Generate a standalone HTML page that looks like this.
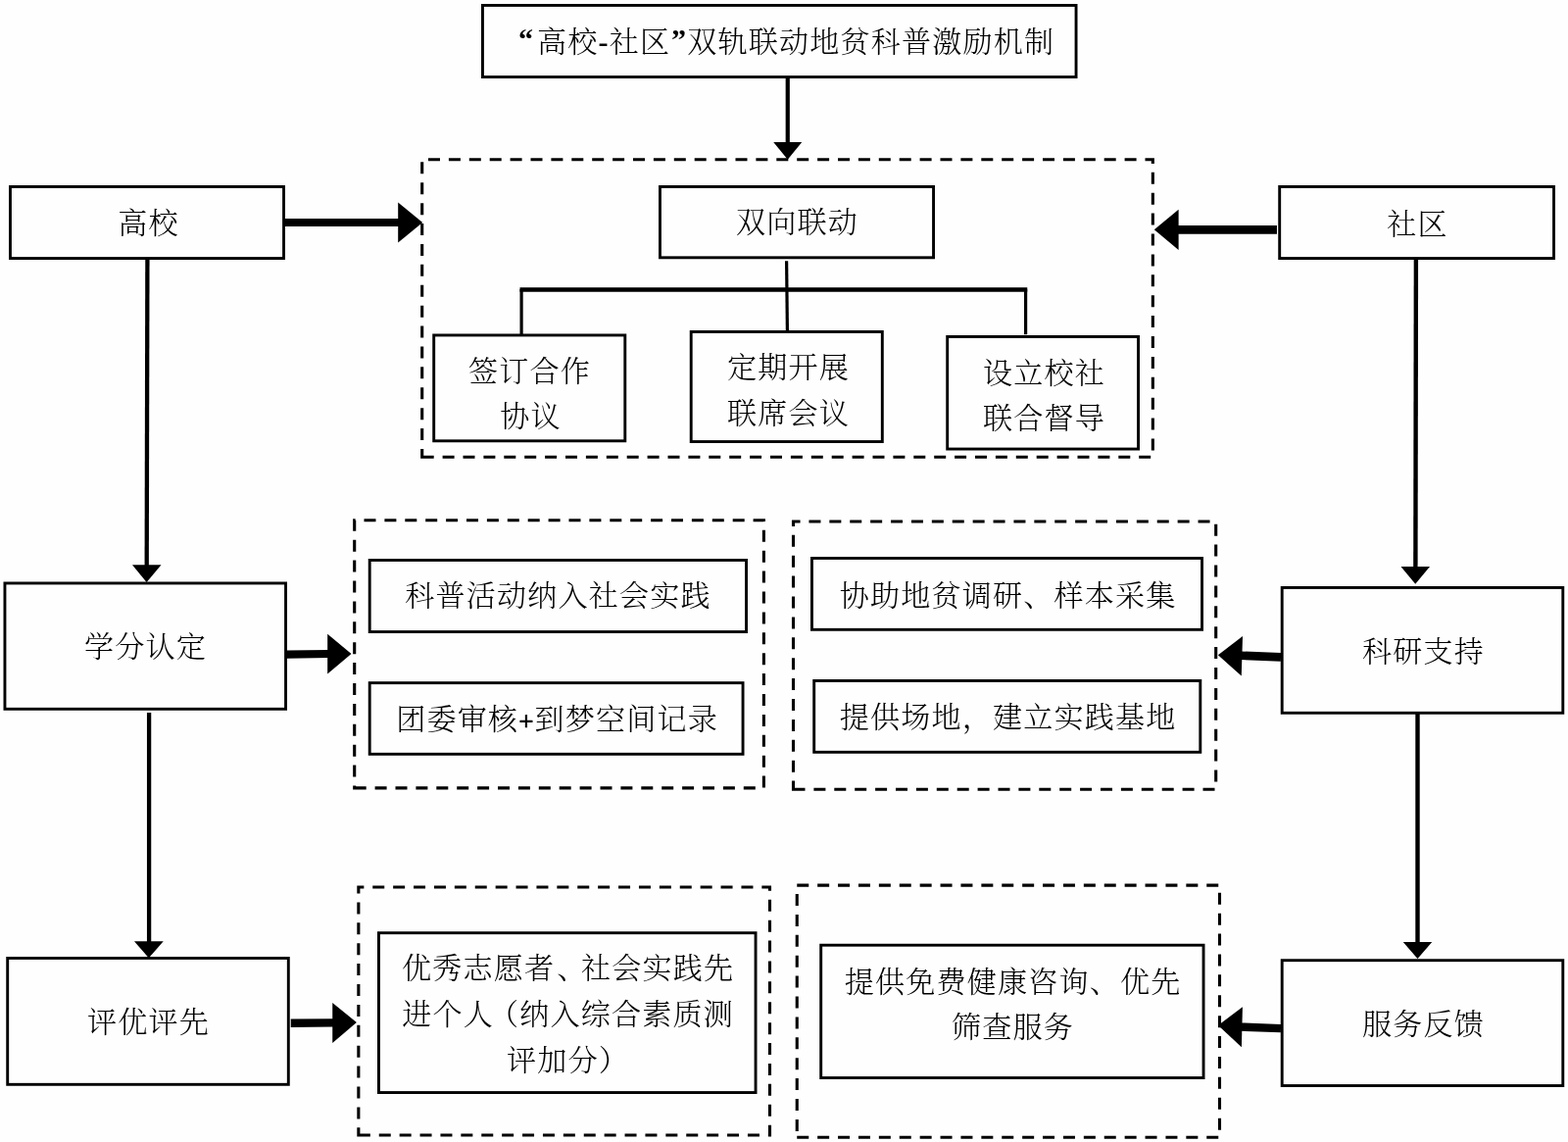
<!DOCTYPE html>
<html lang="zh-CN"><head><meta charset="utf-8"><title>“高校-社区”双轨联动地贫科普激励机制</title>
<style>
html,body{margin:0;padding:0;background:#fefefe;}
body{width:1600px;height:1165px;position:relative;overflow:hidden;}
#g{position:absolute;left:0;top:0;width:1600px;height:1165px;display:block;}
#g rect{fill:#fefefe;stroke:#000;stroke-width:2.9;}
#g path{fill:none;stroke:#000;stroke-width:3.1;stroke-dasharray:12 8.9;stroke-linejoin:miter;}
#g line{stroke:#000;}
#g polygon{fill:#000;}
.t{position:absolute;white-space:nowrap;text-align:center;font-family:"Liberation Serif", "Noto Serif CJK SC", serif;font-size:30.1px;letter-spacing:1.15px;line-height:46px;height:46px;font-weight:300;color:#000;width:700px;margin-left:-350px;padding-left:1.15px;box-sizing:border-box;will-change:transform;filter:grayscale(1);}
.b{font-weight:700;}
.q{position:relative;top:-3.5px;}
.p{position:relative;top:1px;font-size:27px;letter-spacing:1px;-webkit-text-stroke:0.35px #000;}
</style></head><body>
<svg id="g" width="1600" height="1165" viewBox="0 0 1600 1165" aria-hidden="true">
<g><rect x="492.45" y="5.45" width="605.60" height="73.10"/>
<rect x="10.45" y="190.45" width="279.10" height="73.10"/>
<rect x="1305.70" y="190.45" width="279.85" height="73.10"/>
<rect x="673.45" y="190.45" width="279.10" height="72.35"/>
<rect x="442.70" y="341.95" width="195.10" height="107.85"/>
<rect x="705.20" y="338.45" width="195.10" height="112.10"/>
<rect x="966.70" y="343.45" width="194.85" height="114.60"/>
<rect x="4.95" y="594.95" width="286.60" height="128.35"/>
<rect x="377.20" y="571.45" width="384.35" height="73.10"/>
<rect x="377.20" y="696.65" width="380.85" height="72.65"/>
<rect x="828.45" y="569.45" width="398.10" height="72.85"/>
<rect x="830.70" y="694.45" width="394.10" height="72.85"/>
<rect x="1308.20" y="599.45" width="286.60" height="127.85"/>
<rect x="7.70" y="977.45" width="286.60" height="128.85"/>
<rect x="386.45" y="951.70" width="384.60" height="162.85"/>
<rect x="837.70" y="964.20" width="390.35" height="135.35"/>
<rect x="1308.20" y="979.70" width="286.60" height="127.85"/></g>
<g><path d="M430.7 466.25 H1176.35 V162.75 H430.7 Z"/>
<path d="M361.7 803.9 H779.4 V530.7 H361.7 Z"/>
<path d="M809.5 805.2 H1240.7 V531.95 H809.5 Z"/>
<path d="M365.85 1158.0 H785.5 V905 H365.85 Z"/>
<path d="M813.25 1160.3 H1244.5 V903.1 H813.25 Z"/></g>
<g><line x1="802.6" y1="266.2" x2="803.4" y2="338" stroke-width="3.2"/>
<line x1="530.5" y1="295.5" x2="1048.25" y2="295.5" stroke-width="4.7"/>
<line x1="532.1" y1="295" x2="532.1" y2="342" stroke-width="3.2"/>
<line x1="1046.6" y1="295" x2="1046.6" y2="341.2" stroke-width="3.2"/>
<line x1="803.75" y1="79" x2="803.75" y2="147" stroke-width="4.2"/>
<line x1="150.4" y1="264" x2="149.7" y2="578" stroke-width="4.3"/>
<line x1="1444.9" y1="264" x2="1444.4" y2="580" stroke-width="4.4"/>
<line x1="152.1" y1="727" x2="152.1" y2="962" stroke-width="4.3"/>
<line x1="1446.5" y1="728" x2="1446.5" y2="963" stroke-width="4.4"/>
<line x1="290" y1="227" x2="408" y2="227" stroke-width="8.2"/>
<line x1="1303" y1="234.4" x2="1201" y2="234.4" stroke-width="8.6"/>
<line x1="292" y1="667.6" x2="336" y2="667.0" stroke-width="8.2"/>
<line x1="1307" y1="670.4" x2="1266" y2="668.7" stroke-width="8.6"/>
<line x1="296.75" y1="1043.75" x2="341" y2="1043.35" stroke-width="8.3"/>
<line x1="1307" y1="1049.1" x2="1266" y2="1047.6" stroke-width="8.4"/></g>
<g><polygon points="789.25,145 818.25,145 803.75,162.8"/>
<polygon points="135,576.25 164.5,576.25 149.6,594"/>
<polygon points="1429.5,578 1459,578 1444.25,595.8"/>
<polygon points="137,960.25 166.75,960.25 151.8,977.2"/>
<polygon points="1431.75,961 1461.25,961 1446.5,978"/>
<polygon points="406.2,206.5 406.2,247.4 431.2,226.9"/>
<polygon points="1202.6,213.8 1202.6,255.0 1177.8,234.3"/>
<polygon points="334.2,646.8 334.2,687.4 358.5,666.9"/>
<polygon points="1268,648.9 1266.75,689.5 1242.9,668.2"/>
<polygon points="339.25,1023.1 339.25,1064.0 363.9,1043.1"/>
<polygon points="1267.9,1027.3 1266.9,1068.2 1243.0,1046.1"/></g>
</svg>
<div class="t" id="t0" style="left:801.50px;top:20px"><span class="b q" style="letter-spacing:4px">“</span>高校<span class="b">-</span>社<span style="letter-spacing:2px">区</span><span class="b q">”</span>双轨联动地贫科普激励机制</div>
<div class="t" id="t1" style="left:151.10px;top:205px">高校</div>
<div class="t" id="t2" style="left:1445.80px;top:206px">社区</div>
<div class="t" id="t3" style="left:812.50px;top:204px">双向联动</div>
<div class="t" id="t4" style="left:539.75px;top:356px">签订合作</div>
<div class="t" id="t5" style="left:540.75px;top:402px">协议</div>
<div class="t" id="t6" style="left:803.50px;top:352px">定期开展</div>
<div class="t" id="t7" style="left:803.50px;top:399px">联席会议</div>
<div class="t" id="t8" style="left:1064.75px;top:358px">设立校社</div>
<div class="t" id="t9" style="left:1064.75px;top:404px">联合督导</div>
<div class="t" id="t10" style="left:148.10px;top:637px">学分认定</div>
<div class="t" id="t11" style="left:569.40px;top:585px">科普活动纳入社会实践</div>
<div class="t" id="t12" style="left:567.75px;top:711px">团委审核<span class="b p">+</span>到梦空间记录</div>
<div class="t" id="t13" style="left:1028.40px;top:585px">协助地贫调研、样本采集</div>
<div class="t" id="t14" style="left:1028.40px;top:709px">提供场地，建立实践基地</div>
<div class="t" id="t15" style="left:1451.50px;top:642px">科研支持</div>
<div class="t" id="t16" style="left:151.00px;top:1020px">评优评先</div>
<div class="t" id="t17" style="left:579.40px;top:965px">优秀志愿<span style="letter-spacing:3.2px">者</span><span style="letter-spacing:-5.4px">、</span>社会实践先</div>
<div class="t" id="t18" style="left:579.00px;top:1012px">进个<span style="letter-spacing:-3.7px">人</span>（纳入综合素质测</div>
<div class="t" id="t19" style="left:579.00px;top:1059px">评加分）</div>
<div class="t" id="t20" style="left:1033.10px;top:979px">提供免费健康咨询、优先</div>
<div class="t" id="t21" style="left:1033.10px;top:1025px">筛查服务</div>
<div class="t" id="t22" style="left:1451.50px;top:1022px">服务反馈</div>
</body></html>
